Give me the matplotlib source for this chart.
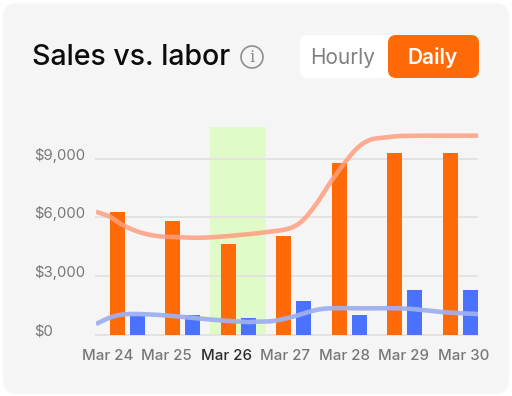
import matplotlib
matplotlib.use("Agg")
import matplotlib.pyplot as plt
import numpy as np
from matplotlib.patches import Circle, FancyBboxPatch, Rectangle

W, H = 512, 396

days = ["Mar 24", "Mar 25", "Mar 26", "Mar 27", "Mar 28", "Mar 29", "Mar 30"]
sales = [6270, 5810, 4630, 5040, 8790, 9270, 9270]
labor = [950, 1000, 850, 1720, 1020, 2280, 2280]
y_ticks = [0, 3000, 6000, 9000]
y_labels = ["$0", "$3,000", "$6,000", "$9,000"]

# trend lines at x in day units
sales_line_x = [-0.56, -0.31, -0.08, 0.23, 0.54, 0.83, 1.37, 2.03, 2.57, 2.93, 3.17, 3.42, 3.65, 3.89, 4.14, 4.37, 4.61, 4.91, 5.45, 6.32]
sales_line_y = [6290, 6035, 5610, 5240, 5050, 5000, 4965, 5100, 5270, 5445, 5865, 6735, 7740, 8675, 9525, 9950, 10065, 10150, 10170, 10170]
labor_line_x = [-0.56, -0.26, 0.05, 0.59, 1.08, 1.67, 2.16, 2.32, 2.63, 2.99, 3.35, 3.64, 4.12, 4.90, 5.33, 5.74, 6.32]
labor_line_y = [560, 935, 1070, 1020, 900, 750, 665, 680, 715, 935, 1240, 1360, 1360, 1360, 1275, 1155, 1070]

ORANGE = "#ff6a08"
BLUE = "#4a72ff"
GREY = "#77777a"


def smooth(x, y, n=16):
    # Catmull-Rom through the read points, only to round the drawn line
    p = np.column_stack([x, y]).astype(float)
    p = np.vstack([p[0], p, p[-1]])
    out = []
    for i in range(1, len(p) - 2):
        t = np.linspace(0, 1, n, endpoint=False)[:, None]
        out.append(0.5 * (2 * p[i] + (p[i + 1] - p[i - 1]) * t
                          + (2 * p[i - 1] - 5 * p[i] + 4 * p[i + 1] - p[i + 2]) * t ** 2
                          + (3 * p[i] - p[i - 1] - 3 * p[i + 1] + p[i + 2]) * t ** 3))
    out.append(p[-2:-1])
    out = np.vstack(out)
    return out[:, 0], out[:, 1]


def fx(px):
    return px / W


def fy(py):
    return 1 - py / H


plt.rcParams["font.family"] = ["Inter", "DejaVu Sans"]
fig = plt.figure(figsize=(W / 100, H / 100), dpi=100, facecolor="white")

# pixel overlay for the card and header
bg = fig.add_axes([0, 0, 1, 1], zorder=0)
bg.set_xlim(0, W)
bg.set_ylim(H, 0)
bg.axis("off")
bg.add_patch(FancyBboxPatch((3, 3), 506, 391, boxstyle="round,pad=0,rounding_size=14",
                            fc="#f5f5f5", ec="#fafafa", lw=1))
bg.add_patch(FancyBboxPatch((300, 35), 110, 43, boxstyle="round,pad=0,rounding_size=8",
                            fc="white", ec="none"))
bg.add_patch(FancyBboxPatch((388, 35), 91, 43, boxstyle="round,pad=0,rounding_size=8",
                            fc=ORANGE, ec="none"))
bg.add_patch(Circle((252, 57), 11, fc="none", ec="#8e8e8e", lw=1.2))
bg.text(252, 57.5, "i", family="DejaVu Serif", fontsize=12, color="#8e8e8e", ha="center", va="center")
bg.text(32.5, 57.5, "Sales vs. labor", fontsize=20.5, fontweight="medium", color="#0b0b0b", va="center")
bg.text(342.5, 57.5, "Hourly", fontsize=15, color="#808083", ha="center", va="center")
bg.text(432.5, 57.5, "Daily", fontsize=15, fontweight="semibold", color="white", ha="center", va="center")

# chart area, 96-478 px wide, baseline at y=335
ax = fig.add_axes([fx(96), fy(335), fx(382), (335 - 127) / H], zorder=1)
ax.patch.set_alpha(0)
ax.set_xlim(-0.56, 6.32)
ax.set_ylim(0, 10612)
for s in ax.spines.values():
    s.set_visible(False)
ax.set_xticks([])
ax.set_yticks([])

xs = np.arange(len(days))
ax.add_patch(Rectangle((1.5, 0), 1.0, 10612, fc="#e0fbc8", ec="none", zorder=1))
ax.hlines(y_ticks, -0.58, 6.32, color="#e2e2e2", lw=1.3, zorder=2, clip_on=False)
ax.bar(xs - 0.18, sales, width=0.27, color=ORANGE, zorder=3)
ax.bar(xs + 0.18, labor, width=0.27, color=BLUE, zorder=3)

sx, sy = smooth(sales_line_x, sales_line_y)
lx, ly = smooth(labor_line_x, labor_line_y)
ax.plot(sx, sy, color="#ff9f80", alpha=0.85, lw=3.3, zorder=4, solid_capstyle="butt")
ax.plot(lx, ly, color="#9fb0f0", alpha=0.95, lw=3.3, zorder=4, solid_capstyle="butt")

# the labels sit on their own spacing, not under the bars
for i, label in enumerate(days):
    bg.text(107.5 + i * 59.3, 355.5, label, fontsize=10.8, ha="center", va="center",
            color="#2b2b2d" if label == "Mar 26" else GREY,
            fontweight="medium")
for tick, label in zip(y_ticks, y_labels):
    py = 335 - tick / 3000 * 58.8 - 3.5
    bg.text(34.5, py, label, fontsize=10.7, color=GREY, ha="left", va="center")

fig.savefig("out.png", dpi=100)
